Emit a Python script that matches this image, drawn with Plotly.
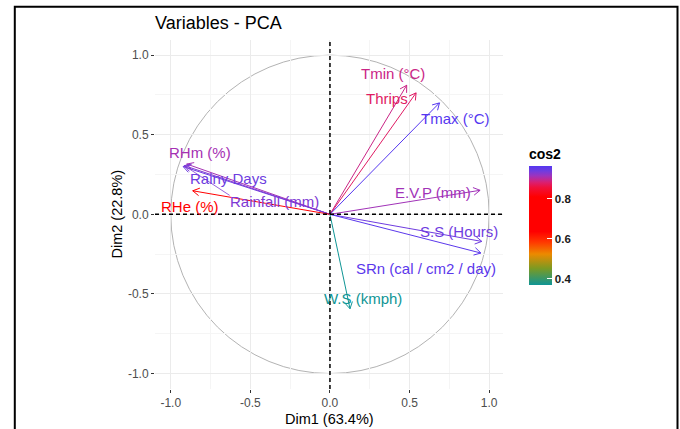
import math
import plotly.graph_objects as go

# ---- data ----
variables = ["Tmin (°C)", "Thrips", "Tmax (°C)", "RHm (%)", "Rainy Days",
             "Rainfall (mm)", "RHe (%)", "E.V.P (mm)", "S.S (Hours)",
             "SRn (cal / cm2 / day)", "W.S (kmph)"]
dim1 = [0.482, 0.541, 0.688, -0.900, -0.922, -0.915, -0.862, 0.943, 0.954, 0.948, 0.126]
dim2 = [0.811, 0.763, 0.700, 0.316, 0.300, 0.306, 0.148, 0.151, -0.170, -0.243, -0.593]
# label positions (ggrepel placed)
label_x = [0.396, 0.361, 0.786, -0.816, -0.640, -0.348, -0.880, 0.650, 0.809, 0.604, 0.206]
label_y = [0.885, 0.727, 0.602, 0.386, 0.228, 0.082, 0.050, 0.136, -0.107, -0.342, -0.530]
# ggrepel connector segment for Rainfall label (start point near label)
rain_seg_x = [-0.630]
rain_seg_y = [0.119]

x_ticks = [-1.0, -0.5, 0.0, 0.5, 1.0]
y_ticks = [-1.0, -0.5, 0.0, 0.5, 1.0]
cbar_ticks = [0.4, 0.6, 0.8]

cos2 = [a * a + b * b for a, b in zip(dim1, dim2)]
cmin, cmax = min(cos2), max(cos2)

colorscale = [
    [0.00, "#0f9595"],
    [0.14, "#7c9a22"],
    [0.26, "#ec8a00"],
    [0.36, "#ff3800"],
    [0.45, "#ff0000"],
    [0.74, "#ff0000"],
    [0.82, "#f0103c"],
    [0.86, "#dc1e6e"],
    [0.89, "#bc2a98"],
    [0.92, "#9a34c0"],
    [0.96, "#6e3ce0"],
    [1.00, "#5537f0"],
]


def hex2rgb(h):
    h = h.lstrip("#")
    return [int(h[i:i + 2], 16) for i in (0, 2, 4)]


def color_at(v):
    t = (v - cmin) / (cmax - cmin)
    t = max(0.0, min(1.0, t))
    for (p0, c0), (p1, c1) in zip(colorscale[:-1], colorscale[1:]):
        if p0 <= t <= p1:
            f = 0 if p1 == p0 else (t - p0) / (p1 - p0)
            a, b = hex2rgb(c0), hex2rgb(c1)
            r = [round(a[i] + (b[i] - a[i]) * f) for i in range(3)]
            return "rgb(%d,%d,%d)" % tuple(r)
    return colorscale[-1][1]


colors = [color_at(v) for v in cos2]

FONT = "Liberation Sans, Arial, sans-serif"

W, H = 680, 429
ML, MR, MT, MB = 155, 177, 40, 40
PW, PH = W - ML - MR, H - MT - MB


def px_x(p):  # window pixel -> paper x
    return (p - ML) / PW


def px_y(p):  # window pixel -> paper y
    return (H - MB - p) / PH


fig = go.Figure()

# colorbar carrier
fig.add_trace(go.Scatter(
    x=dim1, y=dim2, mode="markers",
    marker=dict(size=4, color=cos2, colorscale=colorscale, cmin=cmin, cmax=cmax,
                opacity=0,
                colorbar=dict(
                    title=dict(text="<b>cos2</b>", side="top",
                               font=dict(family=FONT, size=14, color="black")),
                    x=px_x(527), xanchor="left", xref="paper",
                    y=px_y(285), yanchor="bottom",
                    len=140, lenmode="pixels", thickness=23,
                    outlinewidth=0, tickvals=cbar_ticks,
                    ticktext=["<b>%.1f</b>" % t for t in cbar_ticks],
                    ticks="inside", ticklen=5, tickcolor="white", tickwidth=1,
                    tickfont=dict(family=FONT, size=11.5, color="#1a1a1a"),
                    ypad=0, xpad=2)),
    hoverinfo="skip", showlegend=False))

# arrows: shaft plus open arrowhead (30 degrees)
head_len = 0.048
head_ang = math.radians(30)
for i in range(len(variables)):
    x, y = dim1[i], dim2[i]
    ang = math.atan2(y, x)
    wx = [x - head_len * math.cos(ang + s * head_ang) for s in (1, -1)]
    wy = [y - head_len * math.sin(ang + s * head_ang) for s in (1, -1)]
    fig.add_trace(go.Scatter(
        x=[0, x, None, wx[0], x, wx[1]], y=[0, y, None, wy[0], y, wy[1]],
        mode="lines", line=dict(color=colors[i], width=1),
        hoverinfo="skip", showlegend=False))

# Rainfall repel connector
i_rain = variables.index("Rainfall (mm)")
fig.add_trace(go.Scatter(
    x=[rain_seg_x[0], dim1[i_rain]], y=[rain_seg_y[0], dim2[i_rain]],
    mode="lines", line=dict(color=colors[i_rain], width=0.8),
    hoverinfo="skip", showlegend=False))

shapes = [
    dict(type="circle", xref="x", yref="y", x0=-1, y0=-1, x1=1, y1=1,
         line=dict(color="#b3b3b3", width=1), layer="below"),
    dict(type="line", xref="x", yref="paper", x0=0, x1=0, y0=0, y1=1,
         line=dict(color="black", width=1.5, dash="4px,3px")),
    dict(type="line", xref="paper", yref="y", x0=0, x1=1, y0=0, y1=0,
         line=dict(color="black", width=1.5, dash="4px,3px")),
    # outer frame
    dict(type="rect", xref="paper", yref="paper", x0=px_x(14.8), x1=px_x(677.5),
         y0=px_y(460), y1=px_y(6.7), line=dict(color="black", width=2), layer="above"),
]

annotations = []
for i in range(len(variables)):
    annotations.append(dict(
        x=label_x[i], y=label_y[i], xref="x", yref="y", text=variables[i],
        showarrow=False, font=dict(family=FONT, size=15, color=colors[i]),
        xanchor="center", yanchor="middle"))

annotations.append(dict(x=0.5, y=px_y(419), xref="paper", yref="paper",
                        text="Dim1 (63.4%)", showarrow=False,
                        font=dict(family=FONT, size=14.5, color="black"),
                        xanchor="center", yanchor="middle"))
annotations.append(dict(x=px_x(116), y=0.5, xref="paper", yref="paper",
                        text="Dim2 (22.8%)", showarrow=False, textangle=-90,
                        font=dict(family=FONT, size=14.5, color="black"),
                        xanchor="center", yanchor="middle"))

axis_common = dict(
    showgrid=True, gridcolor="#ebebeb", gridwidth=1, zeroline=False,
    ticks="outside", ticklen=3, tickcolor="#333333", tickwidth=1,
    tickfont=dict(family=FONT, size=12, color="#4d4d4d"),
    showline=False,
    minor=dict(dtick=0.25, showgrid=True, gridcolor="#f5f5f5", gridwidth=0.6, ticks=""),
)

fig.update_layout(
    width=W, height=H,
    margin=dict(l=ML, r=MR, t=MT, b=MB),
    paper_bgcolor="white", plot_bgcolor="white",
    title=dict(text="Variables - PCA", x=0, xref="paper", xanchor="left",
               y=1 - 23 / H, yref="container", yanchor="middle",
               font=dict(family=FONT, size=18, color="black")),
    xaxis=dict(range=[-1.099, 1.087], tickvals=x_ticks,
               ticktext=["%.1f" % t for t in x_ticks], **axis_common),
    yaxis=dict(range=[-1.097, 1.095], tickvals=y_ticks,
               ticktext=["%.1f" % t for t in y_ticks], **axis_common),
    shapes=shapes, annotations=annotations,
    showlegend=False,
)

fig.write_html("out.html",
               config={"displayModeBar": False},
               post_script="document.body.style.margin='0';"
                           "document.body.style.overflow='hidden';")
